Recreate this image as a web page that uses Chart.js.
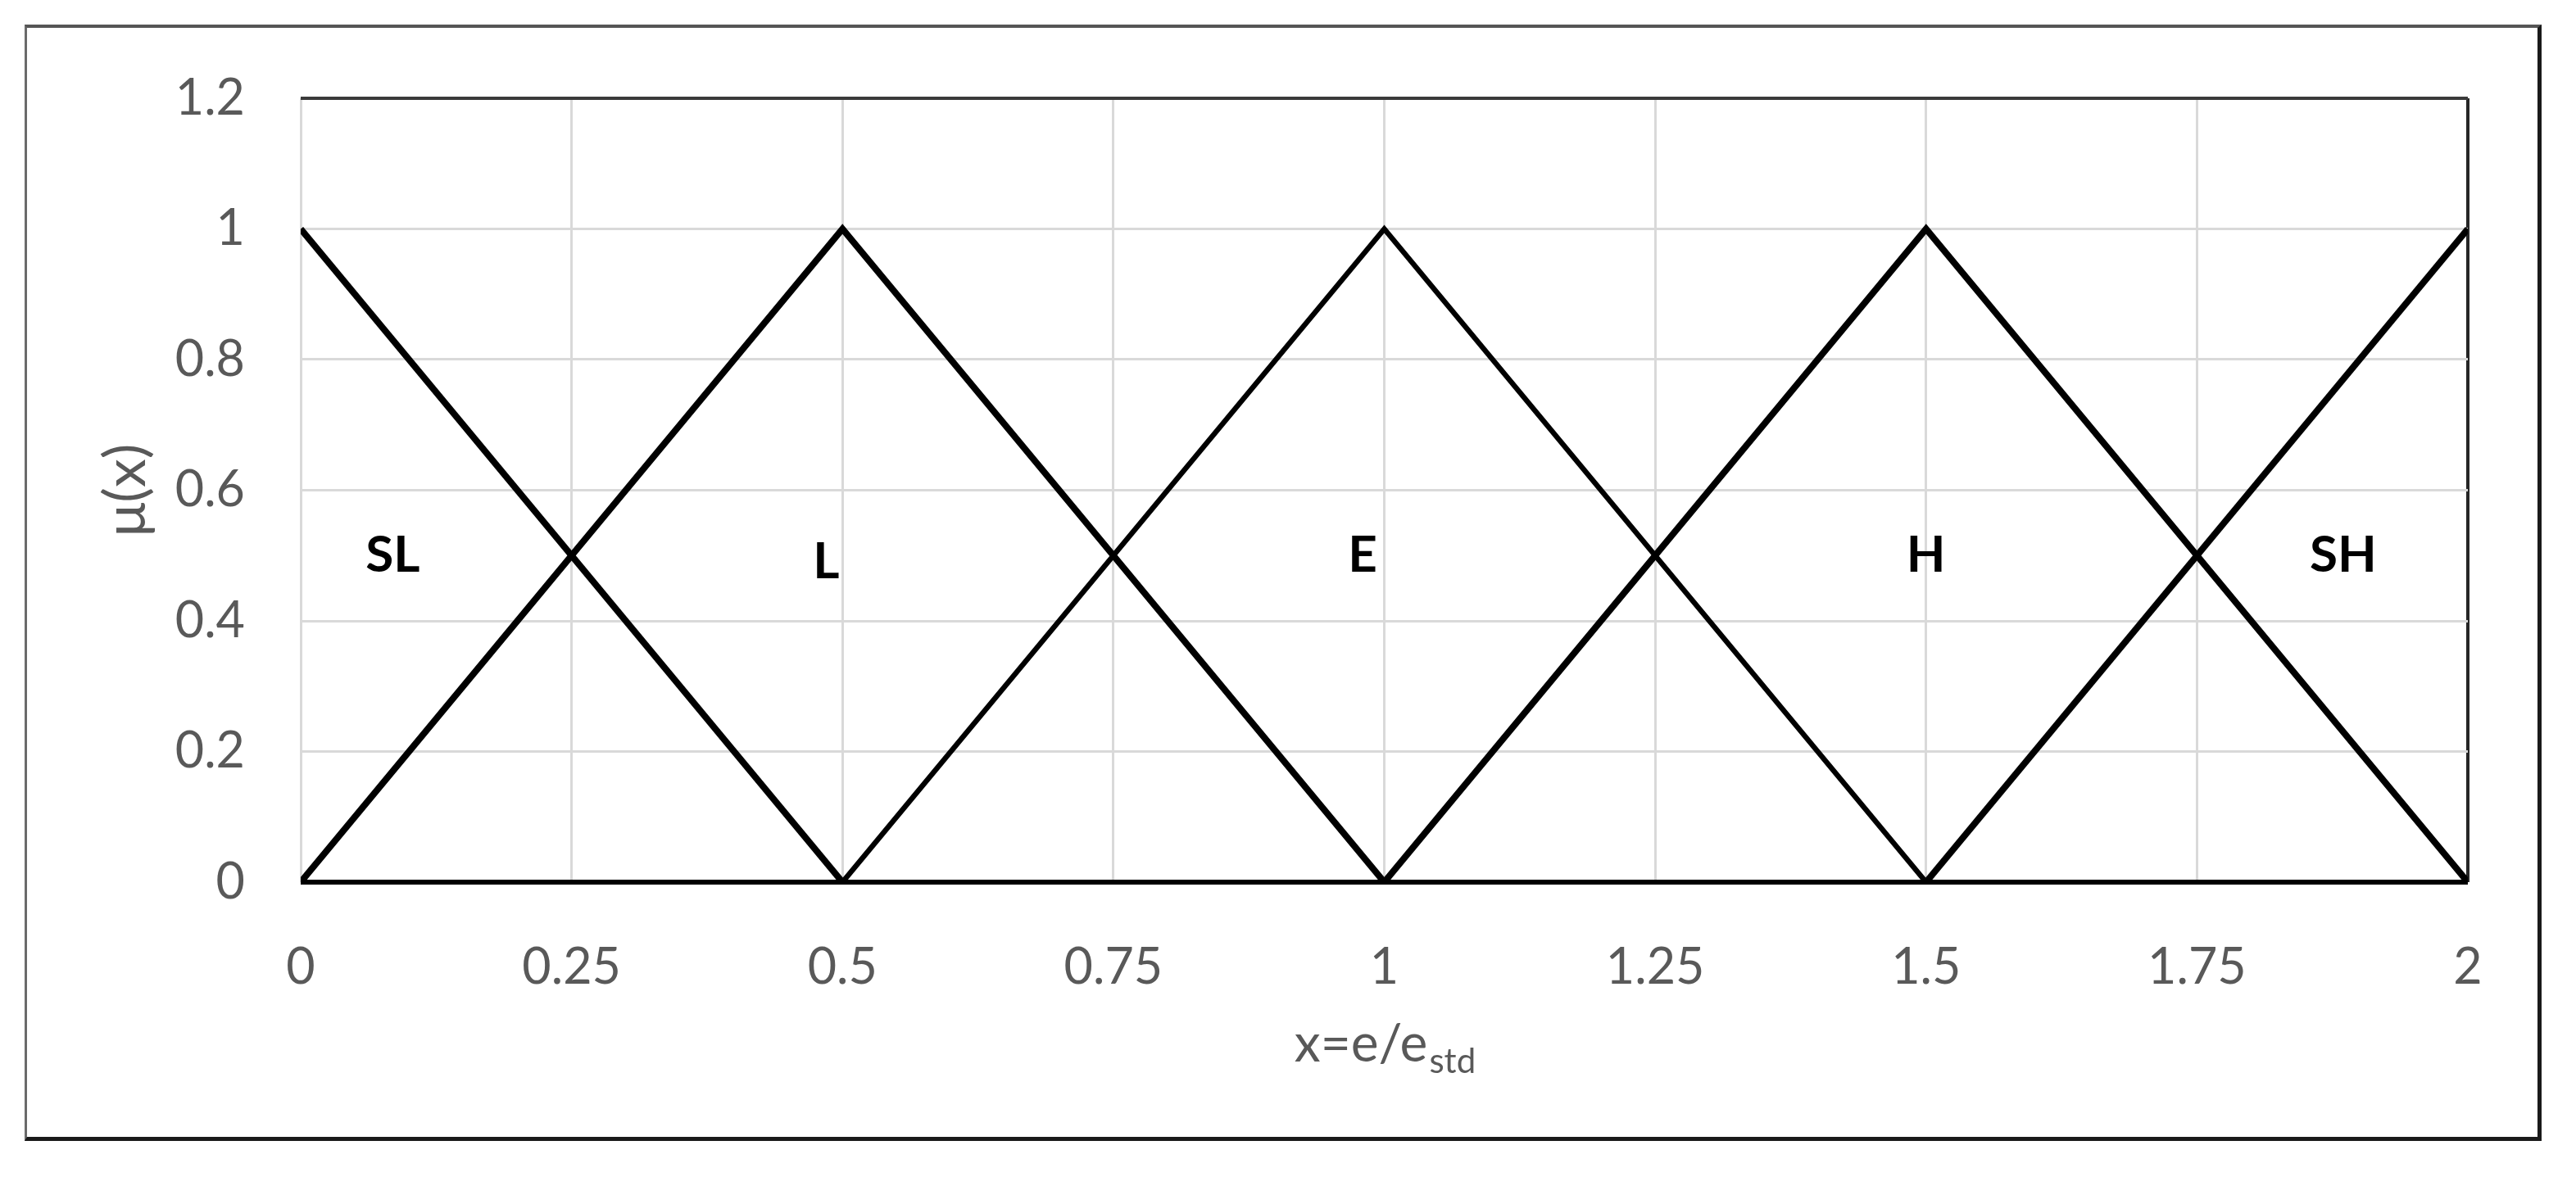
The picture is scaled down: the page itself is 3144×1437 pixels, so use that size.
<!DOCTYPE html>
<html>
<head>
<meta charset="utf-8">
<script src="https://cdn.jsdelivr.net/npm/chart.js@4.4.0/dist/chart.umd.min.js"></script>
<style>
  html, body { margin: 0; padding: 0; background: #fff; }
  #wrap { position: relative; width: 3144px; height: 1437px; }
  #frame {
    position: absolute; left: 30px; top: 30px; width: 3064px; height: 1354px;
    border-left: 3px solid #6a6a6a; border-top: 4px solid #555;
    border-right: 5px solid #1a1a1a; border-bottom: 5px solid #1a1a1a;
    pointer-events: none;
  }
</style>
</head>
<body>
<div id="wrap">
  <canvas id="chart" width="3144" height="1437"></canvas>
  <div id="frame"></div>
</div>
<script>
const xTicks = [0, 0.25, 0.5, 0.75, 1, 1.25, 1.5, 1.75, 2];
const xTickLabels = ['0', '0.25', '0.5', '0.75', '1', '1.25', '1.5', '1.75', '2'];
const yTicks = [0, 0.2, 0.4, 0.6, 0.8, 1, 1.2];
const yTickLabels = ['0', '0.2', '0.4', '0.6', '0.8', '1', '1.2'];

// membership functions
const slX = [0, 0.5];      const slY = [1, 0];
const lX = [0, 0.5, 1];    const lY = [0, 1, 0];
const eX = [0.5, 1, 1.5];  const eY = [0, 1, 0];
const hX = [1, 1.5, 2];    const hY = [0, 1, 0];
const shX = [1.5, 2];      const shY = [0, 1];

// set names drawn inside the plot
const setNames = ['SL', 'L', 'E', 'H', 'SH'];
const setNameX = [0.085, 0.485, 0.98, 1.5, 1.885];
const setNameY = [0.5, 0.49, 0.5, 0.5, 0.5];

const FONT = 'Lato, "Open Sans", sans-serif';
const GREY = '#595959';

function pts(xs, ys) {
    return xs.map((x, i) => ({ x: x, y: ys[i] }));
}

function line(label, xs, ys, width) {
    return {
        label: label,
        data: pts(xs, ys),
        showLine: true,
        borderColor: '#000',
        borderWidth: width,
        pointRadius: 0,
        fill: false,
        tension: 0
    };
}

const setLabelsPlugin = {
    id: 'setLabels',
    afterDatasetsDraw(chart) {
        const ctx = chart.ctx;
        const xs = chart.scales.x, ys = chart.scales.y;
        ctx.save();
        ctx.fillStyle = '#000';
        ctx.font = 'bold 62px ' + FONT;
        ctx.textAlign = 'center';
        ctx.textBaseline = 'middle';
        setNames.forEach((name, i) => {
            ctx.fillText(name, xs.getPixelForValue(setNameX[i]), ys.getPixelForValue(setNameY[i]));
        });
        ctx.restore();
    }
};

// x title with a subscript
const xTitlePlugin = {
    id: 'xTitle',
    afterDraw(chart) {
        const ctx = chart.ctx;
        const area = chart.chartArea;
        const main = 'x=e/e', sub = 'std';
        ctx.save();
        ctx.fillStyle = GREY;
        ctx.textBaseline = 'alphabetic';
        ctx.font = '64px ' + FONT;
        const w1 = ctx.measureText(main).width;
        ctx.font = '42px ' + FONT;
        const w2 = ctx.measureText(sub).width;
        const left = (area.left + area.right) / 2 - (w1 + w2) / 2;
        const base = 1296;
        ctx.font = '64px ' + FONT;
        ctx.textAlign = 'left';
        ctx.fillText(main, left, base);
        ctx.font = '42px ' + FONT;
        ctx.fillText(sub, left + w1 + 2, base + 14);
        ctx.restore();
    }
};

new Chart(document.getElementById('chart'), {
    type: 'scatter',
    data: {
        datasets: [
            line('SL', slX, slY, 8),
            line('L', lX, lY, 8),
            line('E', eX, eY, 6.5),
            line('H', hX, hY, 8),
            line('SH', shX, shY, 8)
        ]
    },
    options: {
        responsive: false,
        animation: false,
        layout: { padding: { top: 120, right: 132, left: 0, bottom: 0 } },
        plugins: {
            legend: { display: false },
            tooltip: { enabled: false }
        },
        scales: {
            x: {
                type: 'linear',
                min: 0,
                max: 2,
                afterBuildTicks: s => { s.ticks = xTicks.map(v => ({ value: v })); },
                afterFit: s => { s.height = 360; },
                border: { display: false },
                grid: {
                    drawTicks: false,
                    color: c => c.tick && c.tick.value === 2 ? '#262626' : '#d9d9d9',
                    lineWidth: c => c.tick && c.tick.value === 2 ? 4 : 3
                },
                ticks: {
                    padding: 68,
                    color: GREY,
                    font: { family: FONT, size: 61 },
                    callback: (v, i) => xTickLabels[i]
                }
            },
            y: {
                type: 'linear',
                min: 0,
                max: 1.2,
                afterBuildTicks: s => { s.ticks = yTicks.map(v => ({ value: v })); },
                afterFit: s => { s.width = 367; },
                border: { display: false },
                grid: {
                    drawTicks: false,
                    color: c => {
                        if (!c.tick) return '#d9d9d9';
                        if (c.tick.value === 0) return '#000';
                        if (c.tick.value === 1.2) return '#3a3a3a';
                        return '#d9d9d9';
                    },
                    lineWidth: c => {
                        if (!c.tick) return 3;
                        if (c.tick.value === 0) return 6;
                        if (c.tick.value === 1.2) return 4;
                        return 3;
                    }
                },
                ticks: {
                    padding: 68,
                    color: GREY,
                    font: { family: FONT, size: 61 },
                    callback: (v, i) => yTickLabels[i]
                },
                title: {
                    display: true,
                    text: 'μ(x)',
                    color: GREY,
                    font: { family: FONT, size: 70 },
                    padding: { top: 112, bottom: 0 }
                }
            }
        }
    },
    plugins: [setLabelsPlugin, xTitlePlugin]
});
</script>
</body>
</html>
